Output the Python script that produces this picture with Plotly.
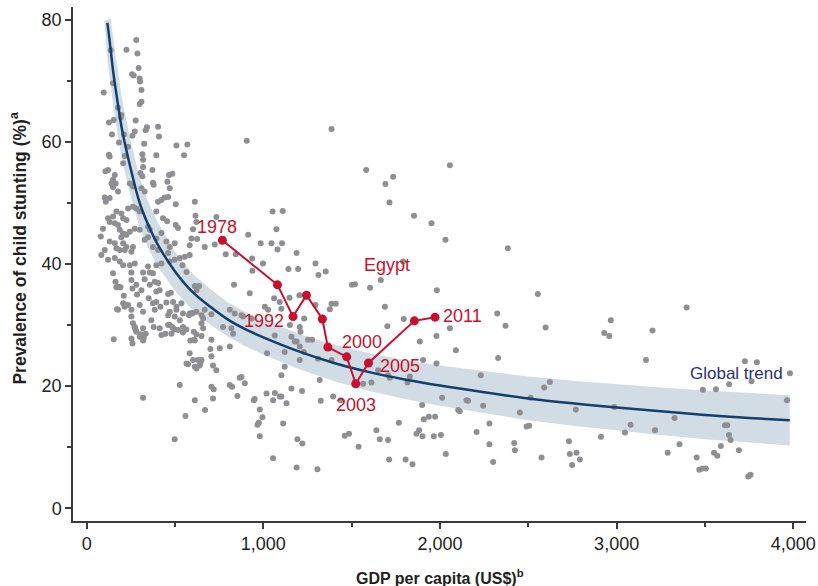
import plotly.graph_objects as go

# ---------------- data ----------------
gdp = [
    281, 225, 287, 294, 257, 266, 300, 302, 310, 96, 310, 300, 277, 196, 193, 153, 126, 143, 211, 341,
    334, 404, 272, 259, 409, 183, 234, 325, 508, 570, 136, 149, 177,
    906, 551, 457,
    1386, 1582, 1735, 1691, 2056, 1714, 1853, 1952, 2031, 2384, 1110, 1106, 1188, 1142, 1197, 1295, 1312,
    1353, 1791, 1502, 1519, 1604, 1665, 1982, 2554, 1148, 1204,
    1295, 1386, 1410, 1376, 1231, 1150, 1206, 1210, 1276, 1178, 1121, 1206, 1386, 1159, 1219, 1093, 1131,
    1325, 1395, 1112, 1193, 1221, 1188, 1306, 1461, 1485, 1539, 1565, 1612, 1640, 1659, 1706, 1712, 1767,
    1805, 1844, 1867, 1882, 1901, 1908, 1937, 1972, 1965, 2005, 2033, 1899, 1980, 2056, 2090, 2012, 2112,
    2159, 2231, 2244, 2207, 2280, 2280, 2301, 2324, 2371, 2329, 2420, 2424, 2452, 2490, 2505, 2513, 2575,
    2590, 2598, 2622, 1702, 1716, 1816, 1121,
    3396, 2967, 2930, 2958, 3203, 3166, 3726, 3794, 3981, 3637, 3764, 3488, 3562, 3964, 2769, 2986, 3328,
    3079, 3217, 3047, 2911, 3613, 3626, 3636, 3645, 3590, 3692, 3356, 3289, 3453, 3551, 3570, 3468, 3486,
    3505, 3745, 3758, 2730, 2735, 2773, 2748, 2792,
    612, 616, 1052, 602, 914, 1074, 625, 668, 725, 844, 985, 1046, 1080, 998, 938, 555, 583, 542, 834, 923,
    1061, 1102, 1688, 1795, 1886, 810, 876, 1008, 1027, 772, 829, 1065, 1159, 1188, 1253, 1206, 1229, 1021,
    753, 706, 565, 612, 644, 715, 810, 876, 895, 1102, 1319, 1438, 1650, 1706, 1829, 1904, 1980, 2150, 2103,
    527, 612, 715, 946, 980, 1055,
    734, 787, 936,
    612, 636, 621, 598, 621, 668, 706, 659, 650, 838, 885, 933, 1093, 606, 659, 650, 819, 612, 706, 700,
    810, 1310, 583, 602, 630, 650, 640, 734, 866, 706, 719, 823, 853, 670, 951, 995, 974, 967, 980, 1055,
    1018, 1065, 1102,
    153, 319, 559, 498, 574, 621,
    168, 183, 210, 225, 215, 172, 253, 262, 272, 277, 253, 259, 304, 323, 300, 319, 285, 310, 351, 394,
    413, 461, 476, 385, 417, 451, 489, 508, 366, 379, 413, 461, 485, 498, 527, 545, 564, 461, 498, 583,
    650, 587, 608, 621, 423, 446, 480,
    149, 163, 177, 191, 253, 253, 259, 281, 319, 357, 375, 328, 357, 385, 404, 206, 234, 177, 253, 375,
    394, 470, 508, 536, 545, 579, 593, 272, 281, 319, 334, 470, 489, 517, 545, 300, 319,
    130, 126, 206, 215, 315, 319, 319, 394, 106, 121, 159, 149, 140, 164, 304, 315, 372, 466, 485, 177,
    149, 244, 262, 310, 328, 375, 379, 470, 102, 130, 108, 404, 423, 442, 461, 504, 262, 281, 300, 234,
    394, 432, 455, 168, 149, 196, 206, 225, 121, 130, 159, 177, 92, 80, 187, 206, 196, 225, 244, 272,
    300, 347, 357, 394, 423, 504, 517, 130, 159, 206, 225, 168, 187, 215, 262, 253, 102, 83, 121, 159,
    187, 206, 244, 272, 347, 394, 423, 470, 498, 527, 328, 347, 375, 404, 451, 470, 498, 593, 583, 461,
    621, 565,
]
stunting = [
    76.7, 75.1, 74.5, 72.1, 71.1, 70.9, 70.4, 69.9, 68.5, 68.1, 66.6, 66.2, 63.5, 64.4, 64.0, 63.6, 63.2, 61.2, 61.2, 62.4,
    61.9, 62.5, 61.7, 61.0, 60.9, 59.9, 59.2, 59.7, 59.4, 59.6, 75.0, 69.6, 65.6,
    60.2, 57.8, 53.5,
    62.1, 55.4, 54.3, 53.1, 56.2, 50.1, 47.9, 46.7, 44.0, 42.6, 48.7, 43.4, 41.8, 39.2, 39.2, 40.1, 38.2,
    38.8, 40.4, 36.6, 36.7, 36.1, 37.4, 35.7, 35.1, 34.5, 34.9,
    33.3, 33.5, 33.5, 32.6, 31.1, 30.0, 29.7, 28.9, 27.6, 27.3, 25.6, 24.3, 24.3, 19.6, 19.2, 18.3, 17.2,
    17.6, 18.3, 13.9, 11.3, 10.6, 6.7, 6.4, 11.9, 12.2, 10.1, 20.4, 20.6, 12.8, 11.3, 11.2, 8.0, 14.0,
    8.0, 7.2, 12.2, 12.8, 11.8, 14.6, 15.0, 15.0, 11.8, 12.0, 8.9, 16.9, 28.2, 29.5, 25.9, 18.1, 15.9,
    17.6, 21.8, 16.8, 12.5, 13.9, 10.5, 7.6, 31.9, 29.9, 24.6, 10.7, 9.5, 15.7, 13.4, 13.5, 18.1, 8.3,
    19.8, 29.6, 20.7, 29.8, 21.4, 20.6, 23.2,
    32.9, 30.8, 28.7, 28.2, 29.1, 24.3, 24.1, 23.9, 22.1, 20.3, 20.8, 19.4, 19.5, 17.7, 16.2, 16.6, 14.8,
    13.7, 12.8, 12.4, 11.7, 13.6, 13.6, 12.0, 11.2, 10.2, 9.5, 10.5, 9.1, 8.3, 9.1, 8.6, 6.3, 6.5,
    6.5, 5.2, 5.5, 11.0, 8.9, 9.1, 7.1, 8.0,
    50.2, 47.9, 48.6, 45.7, 44.8, 45.7, 44.1, 42.8, 43.2, 41.6, 43.4, 43.4, 42.4, 40.1, 38.9, 41.2, 41.5, 39.8, 36.6, 35.2,
    34.4, 32.7, 33.0, 31.0, 27.3, 32.5, 31.6, 33.0, 32.5, 29.7, 28.6, 28.3, 28.1, 27.3, 27.6, 26.5, 25.6, 25.4,
    26.2, 24.9, 23.7, 23.2, 23.7, 23.4, 20.2, 21.5, 20.5, 21.8, 21.0, 17.7, 22.6, 21.8, 21.6, 24.3, 23.7, 17.7, 16.1,
    20.2, 17.7, 18.0, 17.7, 16.2, 17.7,
    47.7, 41.6, 40.9,
    36.4, 36.4, 35.7, 31.9, 32.2, 32.5, 31.8, 31.1, 30.3, 31.9, 31.4, 31.1, 33.8, 28.9, 29.5, 28.2, 29.5, 27.5, 27.6, 26.1,
    26.5, 24.5, 25.4, 24.3, 24.3, 24.3, 23.4, 22.6, 21.4, 19.9, 19.5, 19.9, 18.4, 16.1, 17.9, 14.9, 14.0, 13.7, 11.8, 8.2,
    18.8, 18.9, 18.3,
    27.7, 18.1, 15.1, 11.3, 23.6, 22.9,
    36.2, 36.3, 34.8, 33.3, 33.0, 32.6, 31.4, 30.3, 29.6, 29.2, 27.8, 27.0, 28.5, 27.9, 33.3, 32.2, 35.0, 35.7, 34.4, 35.5,
    35.7, 35.1, 35.3, 32.5, 33.0, 33.7, 33.8, 33.0, 30.8, 29.7, 29.5, 30.0, 29.7, 29.3, 30.8, 29.7, 29.3, 31.6, 31.4, 31.9,
    31.6, 27.5, 27.6, 28.5, 28.4, 28.6, 28.6,
    38.5, 37.1, 36.3, 36.2, 37.4, 38.6, 36.0, 36.6, 38.6, 38.6, 38.5, 37.5, 36.6, 37.1, 36.9, 33.6, 33.3, 32.5, 32.5, 33.6,
    33.8, 32.2, 32.5, 33.6, 31.9, 31.6, 32.0, 29.7, 28.9, 29.5, 28.6, 30.0, 29.5, 29.2, 28.8, 28.1, 27.5,
    57.6, 57.9, 56.5, 57.7, 58.0, 57.1, 55.9, 57.8, 55.2, 55.4, 54.6, 53.8, 53.2, 53.2, 54.9, 54.4, 55.4, 54.6, 54.8, 51.9,
    52.6, 53.2, 52.7, 52.4, 51.9, 53.3, 53.0, 52.4, 50.9, 50.8, 50.2, 50.2, 50.5, 50.9, 51.0, 49.8, 49.4, 49.1, 48.6, 49.1,
    48.6, 47.5, 47.0, 48.6, 47.8, 48.3, 47.5, 47.2, 47.5, 46.9, 46.7, 46.4, 45.8, 44.5, 45.6, 45.0, 44.4, 44.8, 45.3, 45.8,
    45.6, 46.1, 45.6, 44.2, 45.1, 46.4, 45.9, 43.7, 43.4, 43.4, 42.8, 42.6, 42.3, 42.3, 42.8, 42.0, 42.3, 41.5, 40.7, 41.0,
    40.4, 39.8, 39.8, 40.1, 39.6, 39.8, 40.1, 40.4, 40.7, 41.0, 44.0, 44.4, 42.8, 42.3, 43.7, 42.8, 43.4, 44.2, 43.1, 41.8,
    46.9, 38.7,
]

trend_gdp = [117, 130, 150, 175, 200, 250, 300, 350, 400, 500, 600, 700, 800, 900, 1000, 1200, 1400,
             1600, 1800, 2000, 2250, 2500, 2750, 3000, 3250, 3500, 3750, 3980]
trend_val = [79.5, 76.5, 71.5, 66.5, 62.0, 55.5, 50.0, 46.3, 43.3, 38.8, 35.4, 33.0, 30.9, 29.3, 28.0, 25.7, 23.8,
             22.3, 21.1, 20.1, 19.0, 18.0, 17.2, 16.5, 15.9, 15.3, 14.8, 14.4]

band_hi_gdp = [135, 150, 175, 200, 250, 300, 350, 400, 500, 600, 700, 800, 900, 1000, 1200, 1400, 1600,
               1800, 2000, 2250, 2500, 2750, 3000, 3250, 3500, 3750, 3980]
band_hi_val = [80.2, 77.0, 71.7, 67.0, 60.0, 54.1, 50.1, 46.9, 42.0, 38.4, 35.9, 33.7, 32.1, 30.8, 28.6, 26.8, 25.4,
               24.3, 23.4, 22.45, 21.6, 20.9, 20.3, 19.8, 19.3, 18.85, 18.5]
band_lo_gdp = [100, 117, 130, 150, 175, 200, 250, 300, 350, 400, 500, 600, 700, 800, 900, 1000, 1200, 1400,
               1600, 1800, 2000, 2250, 2500, 2750, 3000, 3250, 3500, 3750, 3980]
band_lo_val = [79.8, 73.5, 70.7, 66.0, 61.3, 57.0, 51.0, 45.9, 42.5, 39.7, 35.6, 32.4, 30.1, 28.1, 26.5, 25.2, 22.8, 20.8,
               19.2, 17.9, 16.8, 15.55, 14.4, 13.5, 12.7, 12.0, 11.3, 10.75, 10.3]

egypt_gdp = [768, 1080, 1168, 1244, 1334, 1365, 1472, 1523, 1595, 1855, 1972]
egypt_val = [43.9, 36.6, 31.4, 34.9, 31.0, 26.4, 24.8, 20.4, 23.8, 30.7, 31.3]
egypt_labels = ["1978", "", "1992", "", "", "", "2000", "2003", "2005", "", "2011"]

x_ticks = [0, 1000, 2000, 3000, 4000]
x_ticktext = ["0", "1,000", "2,000", "3,000", "4,000"]
y_ticks = [0, 20, 40, 60, 80]

# ---------------- styles ----------------
FONT = "Liberation Sans Narrow, Arial Narrow, Liberation Sans, Arial, sans-serif"
RED = "#c8102e"
NAVY = "#123f6b"
BAND = "#d2dce4"
GREY = "#8f8f93"
INK = "#231f20"
AX = "#3a3a3a"

fig = go.Figure()

fig.add_trace(go.Scatter(
    x=band_lo_gdp + band_hi_gdp[::-1], y=band_lo_val + band_hi_val[::-1],
    mode="lines", fill="toself", fillcolor=BAND, line=dict(width=0, color=BAND),
    hoverinfo="skip", showlegend=False))

fig.add_trace(go.Scatter(
    x=gdp, y=stunting, mode="markers",
    marker=dict(size=6, color=GREY, line=dict(width=0)), showlegend=False))

fig.add_trace(go.Scatter(
    x=trend_gdp, y=trend_val, mode="lines", line=dict(color=NAVY, width=2.5, shape="spline"),
    showlegend=False))

fig.add_trace(go.Scatter(
    x=egypt_gdp, y=egypt_val, mode="lines+markers",
    line=dict(color=RED, width=2), marker=dict(size=9, color=RED), showlegend=False))

label_shift = {"1978": (-5, 13), "1992": (-29, -4), "2000": (15, 15),
               "2003": (0, -21), "2005": (32, -3), "2011": (27, 1)}
annotations = []
for gx, gv, lab in zip(egypt_gdp, egypt_val, egypt_labels):
    if lab:
        dx, dy = label_shift[lab]
        annotations.append(dict(x=gx, y=gv, text=lab, showarrow=False, xshift=dx, yshift=dy,
                                font=dict(family=FONT, size=18, color=RED)))

annotations.append(dict(x=1701, y=39.9, text="Egypt", showarrow=False,
                        font=dict(family=FONT, size=18, color=RED)))
annotations.append(dict(x=3681, y=22.1, text="Global trend", showarrow=False,
                        font=dict(family=FONT, size=17, color="#2a2f7c")))
annotations.append(dict(x=0.5, y=0, xref="paper", yref="paper", yanchor="middle", yshift=-56,
                        text="<b>GDP per capita (US$)<sup>b</sup></b>", showarrow=False,
                        font=dict(family=FONT, size=16, color=INK)))
annotations.append(dict(x=0, y=0.53, xref="paper", yref="paper", xanchor="center", yanchor="middle",
                        xshift=-55, textangle=-90,
                        text="<b>Prevalence of child stunting (%)<sup>a</sup></b>", showarrow=False,
                        font=dict(family=FONT, size=17.5, color=INK)))

fig.update_layout(
    width=818, height=586,
    margin=dict(l=73, r=12, t=7, b=65, autoexpand=False),
    plot_bgcolor="white", paper_bgcolor="white",
    font=dict(family=FONT, size=18, color=INK),
    annotations=annotations,
    showlegend=False,
)
fig.update_xaxes(
    range=[-77.6, 4072], showgrid=False, zeroline=False, automargin=False,
    showline=True, linecolor=AX, linewidth=1.5,
    ticks="outside", ticklen=6, tickwidth=1.5, tickcolor=AX,
    tickvals=x_ticks, ticktext=x_ticktext, tickfont=dict(family=FONT, size=18, color=INK),
    minor=dict(dtick=500, tick0=0, ticks="outside", ticklen=4, tickwidth=1.5, tickcolor=AX, showgrid=False),
)
fig.update_yaxes(
    range=[-2.08, 82.1], showgrid=False, zeroline=False, automargin=False,
    showline=True, linecolor=AX, linewidth=1.5,
    ticks="outside", ticklen=6, tickwidth=1.5, tickcolor=AX,
    tickvals=y_ticks, tickfont=dict(family=FONT, size=18, color=INK),
    minor=dict(dtick=10, tick0=0, ticks="outside", ticklen=4, tickwidth=1.5, tickcolor=AX, showgrid=False),
)

fig.write_html("out.html", config={"displayModeBar": False},
               post_script="document.body.style.margin='0';document.body.style.overflow='hidden';")
